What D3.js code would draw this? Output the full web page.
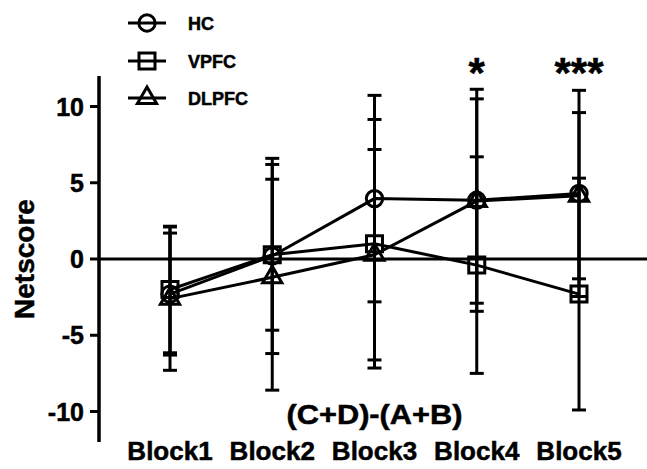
<!DOCTYPE html>
<html>
<head>
<meta charset="utf-8">
<script src="https://cdn.jsdelivr.net/npm/d3@7"></script>
<style>
  body { margin: 0; background: #fff; }
  text { font-family: "Liberation Sans", Arial, sans-serif; font-weight: bold; fill: #000; stroke: #000; stroke-width: 0.5px; }
</style>
</head>
<body>
<div id="chart"></div>
<script>
// data (mean and SD per block)
const blocks = ['Block1', 'Block2', 'Block3', 'Block4', 'Block5'];
const groups = ['HC', 'VPFC', 'DLPFC'];
const hcMean = [-2.3, 0.2, 3.96, 3.85, 4.3];
const hcSd = [4.0, 6.4, 6.77, 7.28, 6.76];
const vpfcMean = [-2.0, 0.28, 1.0, -0.4, -2.3];
const vpfcSd = [4.15, 4.95, 8.15, 7.1, 7.6];
const dlpfcMean = [-2.6, -1.2, 0.28, 3.8, 4.15];
const dlpfcSd = [4.7, 7.4, 6.9, 6.7, 5.45];
const yTicks = [-10, -5, 0, 5, 10];
const stars = ['', '', '', '*', '***'];
const subtitle = '(C+D)-(A+B)';

const width = 647, height = 469;

const series = [
  { name: 'HC', mean: hcMean, sd: hcSd, symbol: d3.symbolCircle, size: 210 },
  { name: 'VPFC', mean: vpfcMean, sd: vpfcSd, symbol: d3.symbolSquare, size: 256 },
  { name: 'DLPFC', mean: dlpfcMean, sd: dlpfcSd, symbol: d3.symbolTriangle, size: 160 }
];

const svg = d3.select('#chart').append('svg')
  .attr('width', width)
  .attr('height', height);

const x = d3.scalePoint().domain(blocks).range([170, 579]);
const y = d3.scaleLinear().domain([-12, 12]).range([442, 76]);
const axisX = 99;

// y axis
svg.append('line')
  .attr('x1', axisX).attr('x2', axisX)
  .attr('y1', y(12)).attr('y2', y(-12))
  .attr('stroke', '#000').attr('stroke-width', 3.5);

svg.selectAll('.ytick')
  .data(yTicks)
  .join('line')
  .attr('class', 'ytick')
  .attr('x1', axisX - 9).attr('x2', axisX)
  .attr('y1', d => y(d)).attr('y2', d => y(d))
  .attr('stroke', '#000').attr('stroke-width', 3);

svg.selectAll('.ylabel')
  .data(yTicks)
  .join('text')
  .attr('class', 'ylabel')
  .attr('x', 84)
  .attr('y', d => y(d) + 9)
  .attr('text-anchor', 'end')
  .style('font-size', '25px')
  .text(d => d);

svg.append('text')
  .attr('transform', `translate(34,${y(0)}) rotate(-90)`)
  .attr('text-anchor', 'middle')
  .style('font-size', '28px')
  .text('Netscore');

// zero line
svg.append('line')
  .attr('x1', axisX).attr('x2', width)
  .attr('y1', y(0)).attr('y2', y(0))
  .attr('stroke', '#000').attr('stroke-width', 3);

// x labels
svg.selectAll('.xlabel')
  .data(blocks)
  .join('text')
  .attr('class', 'xlabel')
  .attr('x', d => x(d))
  .attr('y', 460)
  .attr('text-anchor', 'middle')
  .style('font-size', '26px')
  .text(d => d);

svg.append('text')
  .attr('x', x('Block3'))
  .attr('y', 424)
  .attr('text-anchor', 'middle')
  .attr('textLength', 176)
  .attr('lengthAdjust', 'spacingAndGlyphs')
  .style('font-size', '27px')
  .text(subtitle);

// significance stars
svg.selectAll('.star')
  .data(blocks.map((b, i) => [b, stars[i]]))
  .join('text')
  .attr('class', 'star')
  .attr('x', d => x(d[0]))
  .attr('y', 87)
  .attr('text-anchor', 'middle')
  .style('font-size', '42px')
  .text(d => d[1]);

// lines
const line = d3.line()
  .x((d, i) => x(blocks[i]))
  .y(d => y(d));

series.forEach(s => {
  svg.append('path')
    .datum(s.mean)
    .attr('d', line)
    .attr('fill', 'none')
    .attr('stroke', '#000')
    .attr('stroke-width', 3);
});

// error bars
const capW = 7;
series.forEach(s => {
  const g = svg.append('g');
  const eb = blocks.map((b, i) => ({ b, lo: s.mean[i] - s.sd[i], hi: s.mean[i] + s.sd[i] }));
  g.selectAll('.bar')
    .data(eb)
    .join('line')
    .attr('x1', d => x(d.b)).attr('x2', d => x(d.b))
    .attr('y1', d => y(d.lo)).attr('y2', d => y(d.hi))
    .attr('stroke', '#000').attr('stroke-width', 3);
  ['lo', 'hi'].forEach(k => {
    g.selectAll('.cap-' + k)
      .data(eb)
      .join('line')
      .attr('x1', d => x(d.b) - capW).attr('x2', d => x(d.b) + capW)
      .attr('y1', d => y(d[k])).attr('y2', d => y(d[k]))
      .attr('stroke', '#000').attr('stroke-width', 3);
  });
});

// markers
series.forEach(s => {
  svg.selectAll('.m-' + s.name)
    .data(s.mean)
    .join('path')
    .attr('transform', (d, i) => `translate(${x(blocks[i])},${y(d)})`)
    .attr('d', d3.symbol().type(s.symbol).size(s.size))
    .attr('fill', 'none')
    .attr('stroke', '#000')
    .attr('stroke-width', 3);
});

// legend
const legendY = [23, 61, 98];
series.forEach((s, i) => {
  const g = svg.append('g').attr('transform', `translate(0,${legendY[i]})`);
  g.append('line')
    .attr('x1', 128).attr('x2', 166)
    .attr('stroke', '#000').attr('stroke-width', 3);
  g.append('path')
    .attr('transform', 'translate(147,0)')
    .attr('d', d3.symbol().type(s.symbol).size(s.size))
    .attr('fill', 'none')
    .attr('stroke', '#000')
    .attr('stroke-width', 3);
  g.append('text')
    .attr('x', 188)
    .attr('y', 7)
    .style('font-size', '18px')
    .text(groups[i]);
});
</script>
</body>
</html>
